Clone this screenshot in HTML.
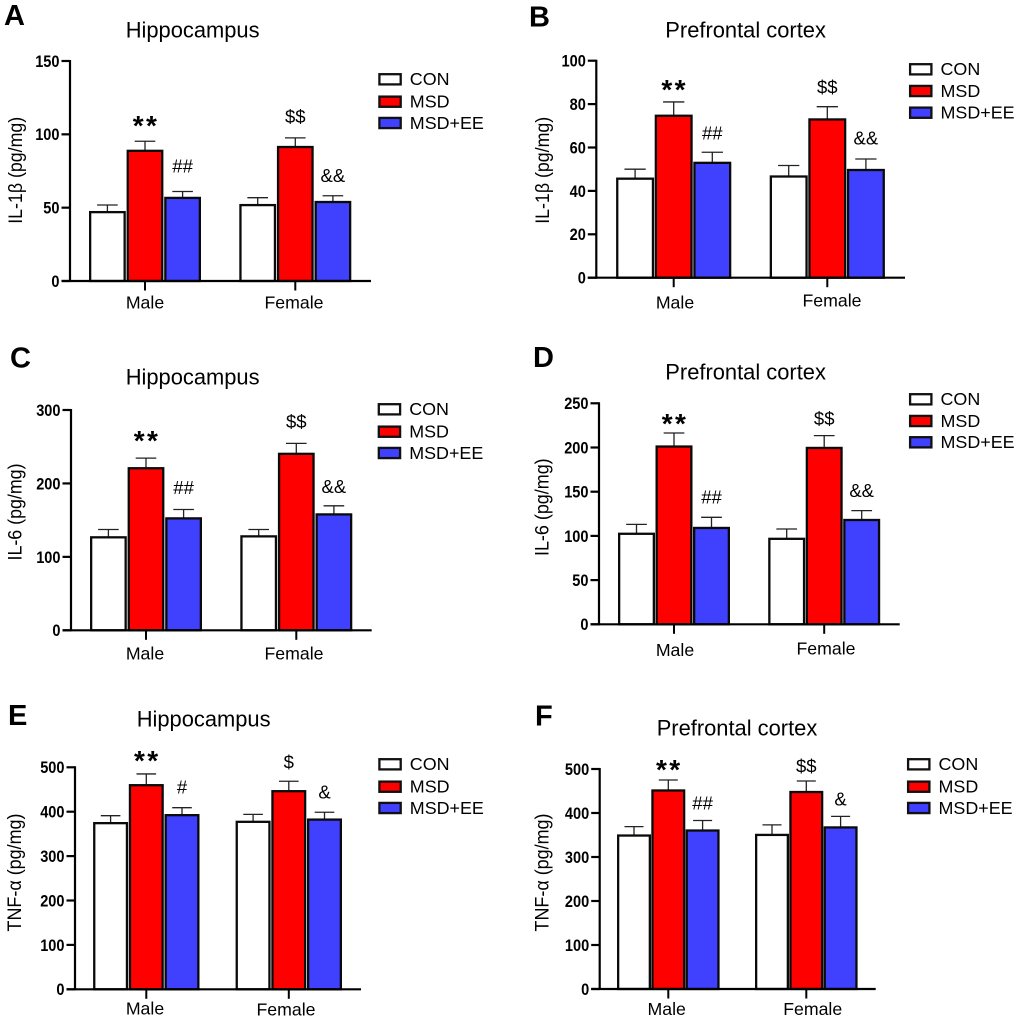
<!DOCTYPE html>
<html lang="en">
<head>
<meta charset="utf-8">
<title>Cytokine levels in hippocampus and prefrontal cortex</title>
<style>
html,body{margin:0;padding:0;background:#fff;width:1020px;height:1021px;overflow:hidden}
svg{display:block}
text{font-family:"Liberation Sans",Arial,sans-serif;fill:#000}
</style>
</head>
<body>
<svg id="figure" xmlns="http://www.w3.org/2000/svg" width="1020" height="1021" viewBox="0 0 1020 1021"></svg>
<script>
const groups = ['Male', 'Female'];
const seriesNames = ['CON', 'MSD', 'MSD+EE'];

const aTitle = 'Hippocampus';
const aYLabel = 'IL-1β (pg/mg)';
const aTicks = [0, 50, 100, 150];
const aCon = [47.5, 52.3];
const aMsd = [89.3, 91.9];
const aEe = [57.2, 54.4];
const aConErr = [4.3, 4.5];
const aMsdErr = [6.0, 5.7];
const aEeErr = [3.8, 3.7];
const aMarks = ['**', '##', '$$', '&&'];

const bTitle = 'Prefrontal cortex';
const bYLabel = 'IL-1β (pg/mg)';
const bTicks = [0, 20, 40, 60, 80, 100];
const bCon = [46, 47];
const bMsd = [75, 73.3];
const bEe = [53.3, 50];
const bConErr = [4, 4.7];
const bMsdErr = [6, 5.5];
const bEeErr = [4.5, 4.7];
const bMarks = ['**', '##', '$$', '&&'];

const cTitle = 'Hippocampus';
const cYLabel = 'IL-6 (pg/mg)';
const cTicks = [0, 100, 200, 300];
const cCon = [127.7, 129];
const cMsd = [221.8, 241.4];
const cEe = [153.5, 158.9];
const cConErr = [9.6, 8.3];
const cMsdErr = [12.7, 13.1];
const cEeErr = [11, 10.6];
const cMarks = ['**', '##', '$$', '&&'];

const dTitle = 'Prefrontal cortex';
const dYLabel = 'IL-6 (pg/mg)';
const dTicks = [0, 50, 100, 150, 200, 250];
const dCon = [103.3, 97.6];
const dMsd = [202, 200.4];
const dEe = [109.9, 118.9];
const dConErr = [9.7, 10.2];
const dMsdErr = [14.4, 13];
const dEeErr = [11.1, 9.7];
const dMarks = ['**', '##', '$$', '&&'];

const eTitle = 'Hippocampus';
const eYLabel = 'TNF-α (pg/mg)';
const eTicks = [0, 100, 200, 300, 400, 500];
const eCon = [376, 379];
const eMsd = [461.5, 448];
const eEe = [394, 384];
const eConErr = [15, 15];
const eMsdErr = [23.5, 20.5];
const eEeErr = [15, 14.7];
const eMarks = ['**', '#', '$', '&'];

const fTitle = 'Prefrontal cortex';
const fYLabel = 'TNF-α (pg/mg)';
const fTicks = [0, 100, 200, 300, 400, 500];
const fCon = [350.6, 352];
const fMsd = [453, 449.5];
const fEe = [362, 369];
const fConErr = [18.4, 21];
const fMsdErr = [22, 23.2];
const fEeErr = [21, 23.4];
const fMarks = ['**', '##', '$$', '&'];

const seriesFill = ['#ffffff', '#ff0000', '#4040ff'];
const seriesKeys = ['con', 'msd', 'msd-ee'];
const svgNS = 'http://www.w3.org/2000/svg';
const root = document.getElementById('figure');

function make(parent, tag, attrs, content) {
  const el = document.createElementNS(svgNS, tag);
  for (const k in attrs) el.setAttribute(k, attrs[k]);
  if (content !== undefined) el.textContent = content;
  parent.appendChild(el);
  return el;
}

function drawPanel(p) {
  const g = make(root, 'g', {});
  
  

  const maxV = p.ticks[p.ticks.length - 1];
  const yAxis = v => p.yB - (v / maxV) * (p.yB - p.yT);
  const xAxis = (gi, si) => p.centers[gi] + (si - 1) * p.step;
  const barStroke = 2.3;
  const barInset = 0.8;

  const letter = make(g, 'text', {x: p.letter[0], y: p.letter[1], 'font-size': 29, 'font-weight': 700}, p.id.toUpperCase());
  
  

  const title = make(g, 'text', {x: p.titlePos[0], y: p.titlePos[1], 'font-size': 21.9}, p.title);
  
  

  const yTitle = make(g, 'text', {
    transform: 'translate(' + p.yLabelPos[0] + ',' + p.yLabelPos[1] + ') rotate(-90)',
    'text-anchor': 'middle', 'font-size': 19,
    textLength: p.yLabelLen, lengthAdjust: 'spacingAndGlyphs'
  }, p.yLabel);
  
  

  p.series.forEach((vals, si) => {
    vals.forEach((v, gi) => {
      const cx = xAxis(gi, si);
      const top = yAxis(v + p.errs[si][gi]);
      const capHalf = p.barW * 0.28;
      const barTop = yAxis(v) + barInset;

      const stem = make(g, 'line', {x1: cx, x2: cx, y1: barTop, y2: top, stroke: '#222', 'stroke-width': 1.3});
      
      

      const cap = make(g, 'line', {x1: cx - capHalf, x2: cx + capHalf, y1: top, y2: top, stroke: '#222', 'stroke-width': 1.3});
      
      

      const bar = make(g, 'rect', {
        x: cx - p.barW / 2 + barStroke / 2, y: barTop,
        width: p.barW - barStroke, height: Math.max(0, p.yB - barTop),
        fill: seriesFill[si], stroke: '#0a0a0a', 'stroke-width': barStroke
      });
      
      
    });
  });

  const yLine = make(g, 'line', {x1: p.axisX, x2: p.axisX, y1: p.yT - 1, y2: p.yB + 1, stroke: '#000', 'stroke-width': 2.2});
  
  

  const xLine = make(g, 'line', {x1: p.axisX - 8.5, x2: p.xEnd, y1: p.yB, y2: p.yB, stroke: '#000', 'stroke-width': 2.2});
  
  

  p.ticks.forEach(t => {
    const y = yAxis(t);
    const tick = make(g, 'line', {x1: p.axisX - 8.5, x2: p.axisX, y1: y, y2: y, stroke: '#000', 'stroke-width': 2.2});
    
    

    const label = String(t);
    const tl = make(g, 'text', {
      x: p.axisX - 10.5, y: y + 5.9, 'text-anchor': 'end', 'font-size': 16.5, 'font-weight': 700,
      textLength: label.length * 8.1, lengthAdjust: 'spacingAndGlyphs'
    }, label);
    
    
  });

  groups.forEach((name, gi) => {
    const cx = p.centers[gi];
    const tick = make(g, 'line', {x1: cx, x2: cx, y1: p.yB, y2: p.yB + 9.5, stroke: '#000', 'stroke-width': 2});
    
    

    const tl = make(g, 'text', {x: p.xLabels[gi][0], y: p.xLabels[gi][1], 'text-anchor': 'middle', 'font-size': 17.7}, name);
    
    
  });

  p.marks.forEach((m, i) => {
    const gi = i < 2 ? 0 : 1;
    const si = i % 2 === 0 ? 1 : 2;
    const cx = xAxis(gi, si);
    const capY = yAxis(p.series[si][gi] + p.errs[si][gi]);
    const isStar = m[0] === '*';
    const base = isStar ? capY - p.gaps[i] + 13.2 : capY - p.gaps[i];
    const t = make(g, 'text', isStar ? {
      x: cx + 1, y: base, 'text-anchor': 'middle', 'font-size': 28, 'font-weight': 700, 'letter-spacing': 2.4
    } : {
      x: cx, y: base, 'text-anchor': 'middle', 'font-size': 18.5
    }, m);
    
    
  });

  seriesNames.forEach((name, si) => {
    const cy = p.legendY[si];
    const sw = make(g, 'rect', {x: p.legendX + 1.1, y: cy - 5.1, width: 21.3, height: 10.2, fill: seriesFill[si], stroke: '#111', 'stroke-width': 2.3});
    
    

    const lt = make(g, 'text', {x: p.legendX + 31.5, y: cy + 5.9, 'font-size': 17.9}, name);
    
    
  });
}

drawPanel({
  id: 'a', title: aTitle, yLabel: aYLabel, ticks: aTicks, marks: aMarks,
  series: [aCon, aMsd, aEe], errs: [aConErr, aMsdErr, aEeErr],
  axisX: 70, yT: 61, yB: 281, xEnd: 371, centers: [145, 295.3], step: 37.6, barW: 36.8,
  letter: [4, 25], titlePos: [125.7, 37.7], yLabelPos: [22, 170.3], yLabelLen: 107,
  xLabels: [[145, 308.3], [294, 308.3]],
  legendX: 378.3, legendY: [79.3, 101.7, 123],
  gaps: [19.3, 19, 14.7, 13.7]
});
drawPanel({
  id: 'b', title: bTitle, yLabel: bYLabel, ticks: bTicks, marks: bMarks,
  series: [bCon, bMsd, bEe], errs: [bConErr, bMsdErr, bEeErr],
  axisX: 596.3, yT: 60.7, yB: 277.7, xEnd: 905, centers: [673.7, 827.3], step: 38.6, barW: 38,
  letter: [529, 26.7], titlePos: [665.3, 37.7], yLabelPos: [549, 170.3], yLabelLen: 107,
  xLabels: [[675, 308.3], [832, 306.7]],
  legendX: 909, legendY: [69.3, 91, 112.7],
  gaps: [16, 12.7, 13.3, 14.7]
});
drawPanel({
  id: 'c', title: cTitle, yLabel: cYLabel, ticks: cTicks, marks: cMarks,
  series: [cCon, cMsd, cEe], errs: [cConErr, cMsdErr, cEeErr],
  axisX: 71, yT: 410, yB: 630.3, xEnd: 371.7, centers: [146, 296.3], step: 37.6, barW: 36.8,
  letter: [10, 367.7], titlePos: [125.7, 384.3], yLabelPos: [21.5, 512], yLabelLen: 97,
  xLabels: [[145, 659.3], [294, 659.3]],
  legendX: 377.7, legendY: [409.3, 431.7, 453],
  gaps: [21.3, 15.4, 15.4, 12.7]
});
drawPanel({
  id: 'd', title: dTitle, yLabel: dYLabel, ticks: dTicks, marks: dMarks,
  series: [dCon, dMsd, dEe], errs: [dConErr, dMsdErr, dEeErr],
  axisX: 599, yT: 403.3, yB: 624.3, xEnd: 899.7, centers: [674, 824.2], step: 37.5, barW: 37,
  letter: [533, 367], titlePos: [665.3, 379.3], yLabelPos: [548.7, 507.2], yLabelLen: 97.7,
  xLabels: [[675, 656], [826, 654.3]],
  legendX: 909, legendY: [399.3, 421, 442.3],
  gaps: [13, 14, 10.7, 13.4]
});
drawPanel({
  id: 'e', title: eTitle, yLabel: eYLabel, ticks: eTicks, marks: eMarks,
  series: [eCon, eMsd, eEe], errs: [eConErr, eMsdErr, eEeErr],
  axisX: 75, yT: 767.3, yB: 989.3, xEnd: 361, centers: [146.3, 288.8], step: 35.7, barW: 35,
  letter: [8, 725], titlePos: [136.7, 726.7], yLabelPos: [21, 872.5], yLabelLen: 118,
  xLabels: [[145, 1014.3], [286, 1015.7]],
  legendX: 378.3, legendY: [764.3, 786.7, 808],
  gaps: [17.3, 14.4, 13, 14]
});
drawPanel({
  id: 'f', title: fTitle, yLabel: fYLabel, ticks: fTicks, marks: fMarks,
  series: [fCon, fMsd, fEe], errs: [fConErr, fMsdErr, fEeErr],
  axisX: 599.7, yT: 769, yB: 989, xEnd: 875.7, centers: [668.3, 806.3], step: 34.3, barW: 34,
  letter: [535, 725.7], titlePos: [656.7, 735.7], yLabelPos: [548.7, 872.5], yLabelLen: 118,
  xLabels: [[666.7, 1015], [812.7, 1015]],
  legendX: 907, legendY: [764.3, 786.7, 808],
  gaps: [14, 11, 8.7, 10.6]
});
</script>
</body>
</html>
